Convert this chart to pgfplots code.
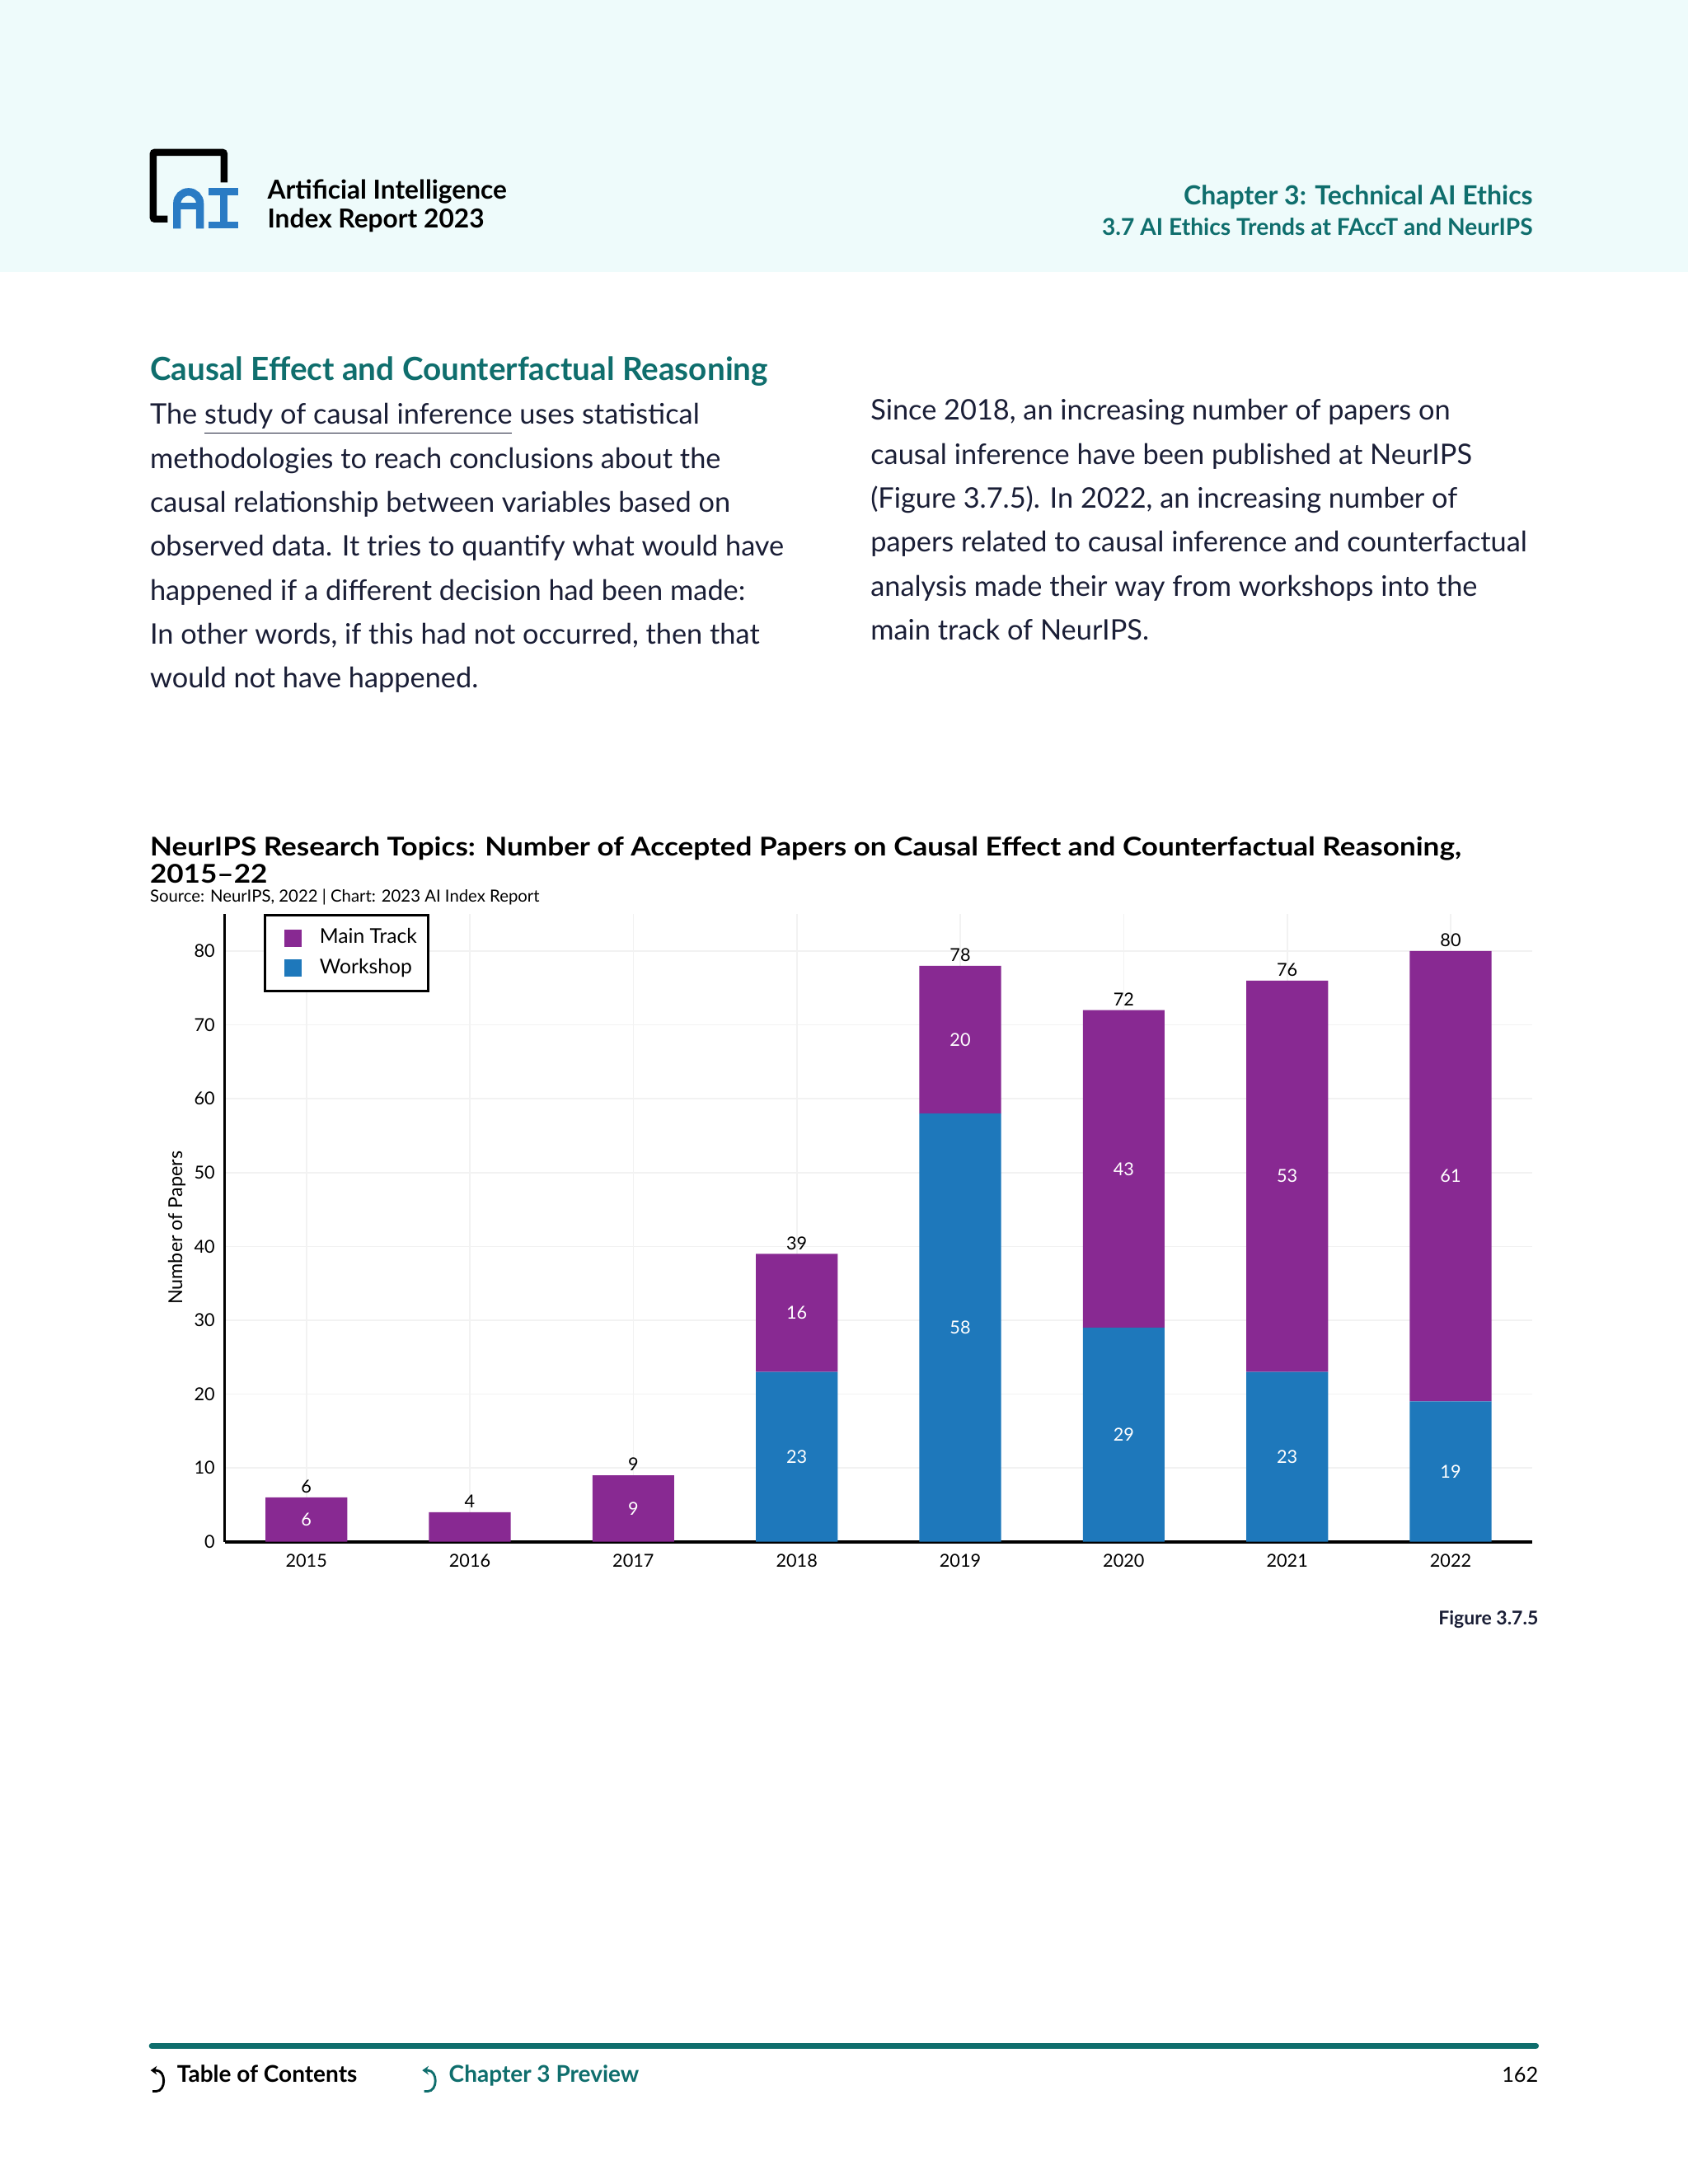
\documentclass[border=0pt]{standalone}
\usepackage{fontspec}
\setmainfont{Lato}
\newfontfamily\titlefont{Lato}[FakeStretch=1.12]
\usepackage{pgfplots}
\pgfplotsset{compat=1.18}
\usepackage{pgfplotstable}
\usetikzlibrary{arrows.meta}

\definecolor{maincol}{HTML}{882992}
\definecolor{wscol}{HTML}{1E78BB}
\definecolor{tealc}{HTML}{0F6E6D}
\definecolor{navy}{HTML}{1A1E36}
\definecolor{headbg}{HTML}{EEFBFB}
\definecolor{logoblue}{HTML}{2A7BC4}
\definecolor{gridc}{HTML}{F2F2F2}
\newcommand{\fs}[1]{\fontsize{#1}{#1}\selectfont}

\pgfplotstableread{
x main workshop
0 6 0
1 4 0
2 9 0
3 16 23
4 20 58
5 43 29
6 53 23
7 61 19
}\papers

\pgfplotstableread{
x y lab
0 3 6
2 4.5 9
3 31 16
4 68 20
5 50.5 43
6 49.5 53
7 49.5 61
3 11.5 23
4 29 58
5 14.5 29
6 11.5 23
7 9.5 19
}\innerlabels

\pgfplotstableread{
x total
0 6
1 4
2 9
3 39
4 78
5 72
6 76
7 80
}\totals

\pgfplotsset{pagepos/.style={at={(81.45bp,232.9bp)}, anchor=south west,
  scale only axis, width=474.2bp, height=227.6bp,
  xmin=-0.5, xmax=7.5, ymin=0, ymax=85}}

\begin{document}
\begin{tikzpicture}
\useasboundingbox (0,0) rectangle (612bp,792bp);
\fill[white] (0,0) rectangle (612bp,792bp);
\begin{scope}[x=1bp,y=1bp,shift={(0bp,792bp)},yscale=-1]
\fill[headbg] (0,0) rectangle (612,98.6);
% logo
\draw[line width=2.5bp, rounded corners=0.6bp] (81.25,66.2) -- (81.25,55.25) -- (55.55,55.25) -- (55.55,79.45) -- (60.8,79.45);
\draw[logoblue, line width=2.8bp] (64.2,82.9) -- (64.2,73.75) arc[start angle=180,end angle=360,radius=4.15] -- (72.5,82.9);
\draw[logoblue, line width=2.4bp] (64.2,74.7) -- (72.5,74.7);
\draw[logoblue, line width=2.5bp] (75.7,69.45) -- (86.5,69.45) (75.7,81.65) -- (86.5,81.65) (81.1,69.45) -- (81.1,81.65);
\node[anchor=base west, inner sep=0, font=\bfseries\fs{9.5}] at (96.8,72.2) {Artificial Intelligence};
\node[anchor=base west, inner sep=0, font=\bfseries\fs{9.5}] at (96.8,82.6) {Index Report 2023};
\node[anchor=base east, inner sep=0, font=\bfseries\fs{9.6}, text=tealc] at (556,74.2) {Chapter 3: Technical AI Ethics};
\node[anchor=base east, inner sep=0, font=\bfseries\fs{8.45}, text=tealc] at (556,85.4) {3.7 AI Ethics Trends at FAccT and NeurIPS};
% heading
\node[anchor=base west, inner sep=0, font=\bfseries\fs{11.6}, text=tealc] at (54.2,138) {Causal Effect and Counterfactual Reasoning};
% columns
\begin{scope}[every node/.style={anchor=base west, inner sep=0, font=\fs{10.3}, text=navy}]
\node at (54.2,153.9) {The \underline{study of causal inference} uses statistical};
\node at (54.2,169.84) {methodologies to reach conclusions about the};
\node at (54.2,185.78) {causal relationship between variables based on};
\node at (54.2,201.72) {observed data. It tries to quantify what would have};
\node at (54.2,217.66) {happened if a different decision had been made:};
\node at (54.2,233.6) {In other words, if this had not occurred, then that};
\node at (54.2,249.54) {would not have happened.};
\node at (315.5,152.4) {Since 2018, an increasing number of papers on};
\node at (315.5,168.34) {causal inference have been published at NeurIPS};
\node at (315.5,184.28) {(Figure 3.7.5). In 2022, an increasing number of};
\node at (315.5,200.22) {papers related to causal inference and counterfactual};
\node at (315.5,216.16) {analysis made their way from workshops into the};
\node at (315.5,232.1) {main track of NeurIPS.};
\end{scope}
% chart title
\node[anchor=base west, inner sep=0, font=\titlefont\bfseries\fs{9.4}] at (54.2,310.3) {NeurIPS Research Topics: Number of Accepted Papers on Causal Effect and Counterfactual Reasoning,};
\node[anchor=base west, inner sep=0, font=\titlefont\bfseries\fs{9.4}] at (54.2,320.2) {2015–22};
\node[anchor=base west, inner sep=0, font=\fs{6.1}] at (54.2,327.2) {Source: NeurIPS, 2022 | Chart: 2023 AI Index Report};
\node[anchor=base east, inner sep=0, font=\bfseries\fs{6.9}, text=navy] at (558,589.2) {Figure 3.7.5};
% footer
\draw[tealc, line width=2bp, line cap=round] (55,741.9) -- (557,741.9);
\draw[line width=0.85bp, -{Stealth[length=2.3bp,width=3.2bp]}] (55.3,758.4) -- (56.6,758.4) .. controls (60.3,758.4) and (60.3,750.8) .. (56.6,750.8) -- (54.6,750.8);
\begin{scope}[shift={(98.5,0)}]
\draw[tealc, line width=0.85bp, -{Stealth[length=2.3bp,width=3.2bp]}] (55.3,758.4) -- (56.6,758.4) .. controls (60.3,758.4) and (60.3,750.8) .. (56.6,750.8) -- (54.6,750.8);
\end{scope}
\node[anchor=base west, inner sep=0, font=\bfseries\fs{8.4}] at (64,755.2) {Table of Contents};
\node[anchor=base west, inner sep=0, font=\bfseries\fs{8.4}, text=tealc] at (162.6,755.2) {Chapter 3 Preview};
\node[anchor=base east, inner sep=0, font=\fs{7.6}] at (558,755.2) {162};
\end{scope}

\begin{axis}[pagepos,
  ybar stacked, bar width=0.5,
  axis x line*=bottom, axis y line*=left,
  x axis line style={line width=1.1bp},
  y axis line style={line width=0.75bp},
  xtick={0,...,7}, xticklabels={2015,2016,2017,2018,2019,2020,2021,2022},
  ytick={0,10,...,80},
  major tick length=0pt,
  grid=major, major grid style={gridc, line width=0.5bp},
  tick label style={font=\fs{6.5}, black},
  /pgf/number format/assume math mode=true,
  xticklabel style={yshift=-1.1bp},
  ylabel={Number of Papers},
  ylabel style={at={(axis description cs:-0.0225,0.5)}, anchor=south, font=\fs{7}},
  legend style={at={(axis description cs:0.0298,1)}, anchor=north west, draw=black, line width=0.9bp, fill=white, font=\fs{7.4}, inner xsep=2.5bp, inner ysep=3.3bp, row sep=1.0bp, column sep=5bp, nodes={inner sep=1.5bp, text depth=0.15em}},
  legend cell align=left,
  legend image code/.code={\path (0bp,0bp); \fill[#1] (4.6bp,-3.15bp) rectangle (10.9bp,3.15bp);},
  reverse legend,
  clip=false,
]
\addplot[fill=wscol, draw=none] table[x=x, y=workshop] {\papers};
\addplot[fill=maincol, draw=none] table[x=x, y=main] {\papers};
\legend{Workshop, Main Track}
\end{axis}

\begin{axis}[pagepos, hide axis, clip=false]
\addplot[draw=none, mark=none, nodes near coords={\pgfplotspointmeta}, point meta=explicit symbolic,
  nodes near coords align={center},
  nodes near coords style={text=white, font=\fs{6.5}}]
  table[x=x, y=y, meta=lab] {\innerlabels};
\addplot[draw=none, mark=none, nodes near coords={\pgfplotspointmeta}, point meta=explicit symbolic,
  nodes near coords style={text=black, font=\fs{6.5}, yshift=-2bp}]
  table[x=x, y=total, meta=total] {\totals};
\end{axis}
\end{tikzpicture}
\end{document}
